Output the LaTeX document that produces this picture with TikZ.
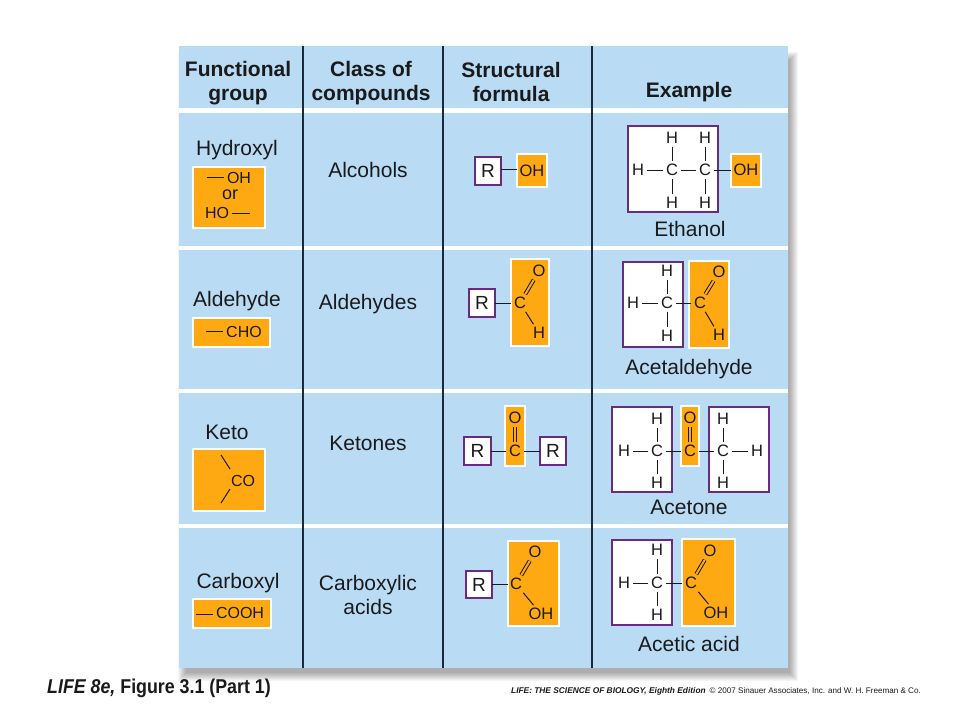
\documentclass[tikz,border=0pt]{standalone}
\usepackage{fontspec}
\setmainfont{Liberation Sans}
\newfontfamily\capfont[FakeStretch=0.89]{Liberation Sans}
\definecolor{panelblue}{HTML}{B9DBF4}
\definecolor{grporange}{HTML}{FFA912}
\definecolor{framepurple}{HTML}{6A2A7E}
\definecolor{rulenavy}{HTML}{1B2A3A}
\definecolor{inkdark}{HTML}{1A1A1C}
\tikzset{
  x=1pt,y=-1pt,
  hdr/.style={font=\fontsize{21}{24}\selectfont\bfseries,text=inkdark,align=center,inner sep=0},
  lbl/.style={font=\fontsize{21}{24}\selectfont,text=inkdark,align=center,inner sep=0},
  atom/.style={font=\fontsize{16.5}{18}\selectfont,text=inkdark,inner xsep=3.5pt,inner ysep=3pt,outer sep=0},
  small/.style={font=\fontsize{16}{18}\selectfont,text=inkdark,inner xsep=3pt,inner ysep=1pt},
  bondline/.style={draw=inkdark,line width=1pt},
  dbond/.style={draw=inkdark,line width=1pt,double=grporange,double distance=2pt},
  orangebox/.style={draw=white,line width=2pt,fill=grporange,rectangle,inner sep=0,outer sep=0},
  whitebox/.style={draw=framepurple,line width=2pt,fill=white,rectangle,inner sep=0,outer sep=0},
  rgroup/.style={whitebox,font=\fontsize{19}{20}\selectfont,text=inkdark},
}
\newcommand{\boxat}[6]{% style, name, x1, y1, x2, y2
  \node[#1,minimum width={(#5-#3-2)*1pt},minimum height={(#6-#4-2)*1pt}] (#2) at ({(#3+#5)/2},{(#4+#6)/2}) {};}
\newcommand{\rboxat}[5]{% name, x1, y1, x2, y2
  \node[rgroup,minimum width={(#4-#2-2)*1pt},minimum height={(#5-#3-2)*1pt}] (#1) at ({(#2+#4)/2},{(#3+#5)/2}) {R};}
\begin{document}
\begin{tikzpicture}
\useasboundingbox (0,0) rectangle (960,720);
\fill[white] (0,0) rectangle (960,720);
% shadow
\foreach \i in {0,...,8}{
  \fill[black,opacity=0.04] ({178+\i},{52+\i}) rectangle ({798-\i},{681-\i});
}
% panel
\fill[panelblue] (179,46) rectangle (788,668);
\foreach \a/\b in {108/112.5,245.5/250,388.5/393,523.5/528}{
  \fill[white] (179,\a) rectangle (788,\b);
}
\foreach \v in {303,443,592}{
  \draw[rulenavy,line width=1.5pt] (\v,46) -- (\v,668);
}
% headers
\node[hdr] (hA) at (238,83) {Functional\\group};
\node[hdr] (hB) at (371,83) {Class of\\compounds};
\node[hdr] (hC) at (511,82) {Structural\\formula};
\node[hdr] (hD) at (689,92) {Example};
% column 2
\node[lbl] (c1) at (368,170) {Alcohols};
\node[lbl] (c2) at (368,304) {Aldehydes};
\node[lbl] (c3) at (368,443) {Ketones};
\node[lbl] (c4) at (368,595) {Carboxylic\\acids};
% column 1
\node[lbl] (f1) at (237,150) {Hydroxyl};
\boxat{orangebox}{f1box}{192}{166}{266}{229}
\node[small] (f1oh) at (239,178) {OH};
\coordinate (f1a) at (207,177);
\draw[bondline] (f1a) -- (f1oh.west |- f1a);
\node[small,font=\fontsize{18}{18}\selectfont] (f1or) at (230,195) {or};
\node[small] (f1ho) at (217,213) {HO};
\coordinate (f1b) at (250,213);
\draw[bondline] (f1ho.east |- f1b) -- (f1b);

\node[lbl] (f2) at (237,301) {Aldehyde};
\boxat{orangebox}{f2box}{192}{317}{271}{348}
\node[small] (f2t) at (244,332) {CHO};
\coordinate (f2a) at (206,331);
\draw[bondline] (f2a) -- (f2t.west |- f2a);

\node[lbl] (f3) at (227,432) {Keto};
\boxat{orangebox}{f3box}{192}{448}{266}{512}
\node[small] (f3t) at (243,481) {CO};
\coordinate (f3a) at (221,455);
\coordinate (f3b) at (230,469);
\coordinate (f3c) at (221,503);
\coordinate (f3d) at (230,489);
\draw[bondline] (f3a) -- (f3b);
\draw[bondline] (f3c) -- (f3d);

\node[lbl] (f4) at (238,583) {Carboxyl};
\boxat{orangebox}{f4box}{192}{598}{272}{629}
\node[small] (f4t) at (240,613) {COOH};
\coordinate (f4a) at (196,614);
\draw[bondline] (f4a) -- (f4t.west |- f4a);

% --- row 1 structural
\rboxat{s1r}{474}{156}{502}{186}
\boxat{orangebox}{s1o}{516}{153}{548}{188}
\node[atom] (s1oh) at (532,171) {OH};
\draw[bondline] (s1r.east |- 0,169) -- (s1o.west |- 0,169);
% --- row 1 example
\boxat{whitebox}{e1w}{627}{125}{719}{213}
\boxat{orangebox}{e1o}{730}{153}{762}{188}
\node[atom] (e1oh) at (746,170) {OH};
\node[atom] (e1c1) at (672,170) {C};
\node[atom] (e1c2) at (705,170) {C};
\node[atom] (e1h0) at (638,170) {H};
\node[atom] (e1h1) at (672,138) {H};
\node[atom] (e1h2) at (705,138) {H};
\node[atom] (e1h3) at (672,203) {H};
\node[atom] (e1h4) at (705,203) {H};
\draw[bondline] (e1h0) -- (e1c1);
\draw[bondline] (e1c1) -- (e1c2);
\draw[bondline] (e1c2) -- (e1o.west |- e1c2);
\draw[bondline] (e1h1) -- (e1c1);
\draw[bondline] (e1h2) -- (e1c2);
\draw[bondline] (e1h3) -- (e1c1);
\draw[bondline] (e1h4) -- (e1c2);
\node[lbl] (e1n) at (690,229) {Ethanol};

% --- row 2 structural
\boxat{orangebox}{s2o}{510}{258}{550}{347}
\rboxat{s2r}{468}{288}{496}{318}
\node[atom] (s2c) at (520,303) {C};
\node[atom] (s2ox) at (539,271) {O};
\node[atom] (s2h) at (539,333) {H};
\draw[bondline] (s2r.east |- s2c) -- (s2o.west |- s2c);
\draw[dbond] (s2c) -- (s2ox);
\draw[bondline] (s2c) -- (s2h);
% --- row 2 example
\boxat{whitebox}{e2w}{622}{261}{684}{348}
\boxat{orangebox}{e2o}{688}{260}{730}{349}
\node[atom] (e2c1) at (667,303) {C};
\node[atom] (e2h0) at (633,303) {H};
\node[atom] (e2h1) at (667,271) {H};
\node[atom] (e2h2) at (667,336) {H};
\node[atom] (e2c2) at (700,303) {C};
\node[atom] (e2ox) at (719,272) {O};
\node[atom] (e2h3) at (719,335) {H};
\draw[bondline] (e2h0) -- (e2c1);
\draw[bondline] (e2h1) -- (e2c1);
\draw[bondline] (e2h2) -- (e2c1);
\draw[bondline] (e2c1) -- (e2c2);
\draw[dbond] (e2c2) -- (e2ox);
\draw[bondline] (e2c2) -- (e2h3);
\node[lbl] (e2n) at (689,369) {Acetaldehyde};

% --- row 3 structural
\boxat{orangebox}{s3o}{504}{405}{526}{467}
\rboxat{s3r}{463}{436}{492}{466}
\rboxat{s3q}{539}{436}{567}{466}
\node[atom] (s3ox) at (515,418) {O};
\node[atom] (s3c) at (515,451) {C};
\draw[dbond] (s3ox) -- (s3c);
\draw[bondline] (s3r.east |- s3c) -- (s3c);
\draw[bondline] (s3c) -- (s3q.west |- s3c);
% --- row 3 example
\boxat{whitebox}{e3w}{611}{406}{673}{493}
\boxat{whitebox}{e3v}{708}{406}{770}{493}
\boxat{orangebox}{e3o}{680}{405}{700}{467}
\node[atom] (e3c1) at (657,451) {C};
\node[atom] (e3h0) at (624,451) {H};
\node[atom] (e3h1) at (657,419) {H};
\node[atom] (e3h2) at (657,483) {H};
\node[atom] (e3ox) at (690,418) {O};
\node[atom] (e3c2) at (690,451) {C};
\node[atom] (e3c3) at (723,451) {C};
\node[atom] (e3h3) at (723,419) {H};
\node[atom] (e3h4) at (723,483) {H};
\node[atom] (e3h5) at (757,451) {H};
\draw[bondline] (e3h0) -- (e3c1);
\draw[bondline] (e3h1) -- (e3c1);
\draw[bondline] (e3h2) -- (e3c1);
\draw[bondline] (e3c1) -- (e3c2);
\draw[dbond] (e3ox) -- (e3c2);
\draw[bondline] (e3c2) -- (e3c3);
\draw[bondline] (e3h3) -- (e3c3);
\draw[bondline] (e3h4) -- (e3c3);
\draw[bondline] (e3c3) -- (e3h5);
\node[lbl] (e3n) at (689,507) {Acetone};

% --- row 4 structural
\boxat{orangebox}{s4o}{507}{540}{560}{627}
\rboxat{s4r}{465}{570}{493}{599}
\node[atom] (s4c) at (516,584) {C};
\node[atom] (s4ox) at (535,552) {O};
\node[atom] (s4oh) at (541,614) {OH};
\draw[bondline] (s4r.east |- s4c) -- (s4o.west |- s4c);
\draw[dbond] (s4c) -- (s4ox);
\draw[bondline] (s4c) -- (s4oh.130);
% --- row 4 example
\boxat{whitebox}{e4w}{611}{539}{673}{626}
\boxat{orangebox}{e4o}{681}{538}{736}{627}
\node[atom] (e4c1) at (657,583) {C};
\node[atom] (e4h0) at (624,583) {H};
\node[atom] (e4h1) at (657,550) {H};
\node[atom] (e4h2) at (657,615) {H};
\node[atom] (e4c2) at (691,583) {C};
\node[atom] (e4ox) at (710,551) {O};
\node[atom] (e4oh) at (716,613) {OH};
\draw[bondline] (e4h0) -- (e4c1);
\draw[bondline] (e4h1) -- (e4c1);
\draw[bondline] (e4h2) -- (e4c1);
\draw[bondline] (e4c1) -- (e4c2);
\draw[dbond] (e4c2) -- (e4ox);
\draw[bondline] (e4c2) -- (e4oh.130);
\node[lbl] (e4n) at (689,644) {Acetic acid};

% captions
\node[anchor=west,inner sep=0,text=inkdark,font=\capfont\fontsize{20}{22}\selectfont\bfseries] (capL) at (47,688) {\textit{LIFE 8e,} Figure 3.1 (Part 1)};
\node[anchor=east,inner sep=0,text=inkdark,font=\fontsize{8.1}{9}\selectfont] (capR) at (921,691) {{\fontsize{8.35}{9}\selectfont\textbf{\textit{LIFE: THE SCIENCE OF BIOLOGY, Eighth Edition}}}\hspace{4pt}© 2007 Sinauer Associates, Inc. and W. H. Freeman \& Co.};
\end{tikzpicture}
\end{document}
